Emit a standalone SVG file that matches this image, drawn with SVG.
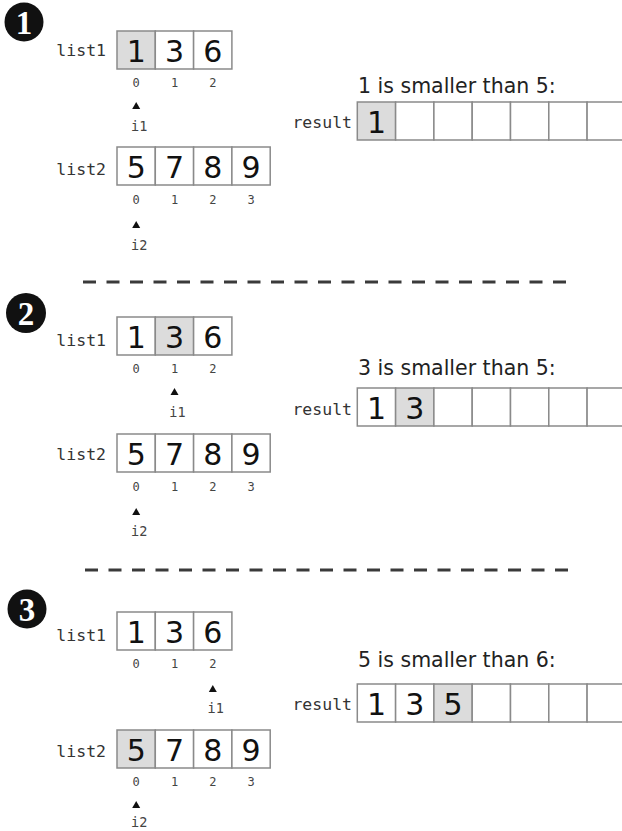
<svg xmlns="http://www.w3.org/2000/svg" width="622" height="831" viewBox="0 0 622 831">
<style>
.cell{fill:#fff;stroke:#8a8a8a;stroke-width:1.5}
.hi{fill:#dcdcdc}
.dig{font-family:"DejaVu Sans",sans-serif;font-size:30px;fill:#111;text-anchor:middle}
.lbl{font-family:"DejaVu Sans Mono",monospace;font-size:16.5px;fill:#333;text-anchor:end}
.idx{font-family:"DejaVu Sans Mono",monospace;font-size:12px;fill:#444;text-anchor:middle}
.ptr{font-family:"DejaVu Sans Mono",monospace;font-size:13.5px;fill:#444}
.cap{font-family:"DejaVu Sans",sans-serif;font-size:20.5px;fill:#222}
.num{font-family:"Liberation Serif",serif;font-weight:bold;font-size:33px;fill:#fff;text-anchor:middle}
.dash{stroke:#3a3a3a;stroke-width:2.8;stroke-dasharray:13 10.5;fill:none}
.arr{fill:#111}
</style>

<!-- ============ STEP 1 ============ -->
<g id="step1-marker"><circle cx="24" cy="22" r="19.5" fill="#111"/><text class="num" x="24" y="34">1</text></g>
<g id="step1-list1">
<text class="lbl" x="106" y="56">list1</text>
<rect class="cell hi" x="117" y="31" width="38.3" height="38"/>
<rect class="cell" x="155.3" y="31" width="38.3" height="38"/>
<rect class="cell" x="193.6" y="31" width="38.3" height="38"/>
<text class="dig" x="136.2" y="62">1</text><text class="dig" x="174.5" y="62">3</text><text class="dig" x="212.8" y="62">6</text>
<text class="idx" x="136.2" y="87">0</text><text class="idx" x="174.5" y="87">1</text><text class="idx" x="212.8" y="87">2</text>
</g>
<g id="step1-i1"><polygon class="arr" points="132.2,109 140.2,109 136.2,102"/><text class="ptr" x="131" y="131">i1</text></g>
<g id="step1-list2">
<text class="lbl" x="106" y="175">list2</text>
<rect class="cell" x="117" y="147" width="38.3" height="38"/>
<rect class="cell" x="155.3" y="147" width="38.3" height="38"/>
<rect class="cell" x="193.6" y="147" width="38.3" height="38"/>
<rect class="cell" x="231.9" y="147" width="38.3" height="38"/>
<text class="dig" x="136.2" y="178">5</text><text class="dig" x="174.5" y="178">7</text><text class="dig" x="212.8" y="178">8</text><text class="dig" x="251.1" y="178">9</text>
<text class="idx" x="136.2" y="204">0</text><text class="idx" x="174.5" y="204">1</text><text class="idx" x="212.8" y="204">2</text><text class="idx" x="251.1" y="204">3</text>
</g>
<g id="step1-i2"><polygon class="arr" points="132.2,228 140.2,228 136.2,221"/><text class="ptr" x="131" y="250">i2</text></g>
<g id="step1-result">
<text class="cap" x="358" y="93">1 is smaller than 5:</text>
<text class="lbl" x="352" y="128">result</text>
<rect class="cell hi" x="357.3" y="102" width="38.3" height="38"/>
<rect class="cell" x="395.6" y="102" width="38.3" height="38"/>
<rect class="cell" x="433.9" y="102" width="38.3" height="38"/>
<rect class="cell" x="472.2" y="102" width="38.3" height="38"/>
<rect class="cell" x="510.5" y="102" width="38.3" height="38"/>
<rect class="cell" x="548.8" y="102" width="38.3" height="38"/>
<rect class="cell" x="587.1" y="102" width="38.3" height="38"/>
<text class="dig" x="376.5" y="133">1</text>
</g>

<g id="separators">
<line class="dash" x1="83" y1="282" x2="570" y2="282"/>
<line class="dash" x1="85" y1="570" x2="570" y2="570"/>
</g>

<!-- ============ STEP 2 ============ -->
<g id="step2-marker"><circle cx="26" cy="313" r="20" fill="#111"/><text class="num" x="26" y="325">2</text></g>
<g id="step2-list1">
<text class="lbl" x="106" y="346">list1</text>
<rect class="cell" x="117" y="317" width="38.3" height="38"/>
<rect class="cell hi" x="155.3" y="317" width="38.3" height="38"/>
<rect class="cell" x="193.6" y="317" width="38.3" height="38"/>
<text class="dig" x="136.2" y="348">1</text><text class="dig" x="174.5" y="348">3</text><text class="dig" x="212.8" y="348">6</text>
<text class="idx" x="136.2" y="373">0</text><text class="idx" x="174.5" y="373">1</text><text class="idx" x="212.8" y="373">2</text>
</g>
<g id="step2-i1"><polygon class="arr" points="170.5,395 178.5,395 174.5,388"/><text class="ptr" x="169.3" y="417">i1</text></g>
<g id="step2-list2">
<text class="lbl" x="106" y="460">list2</text>
<rect class="cell" x="117" y="434" width="38.3" height="38"/>
<rect class="cell" x="155.3" y="434" width="38.3" height="38"/>
<rect class="cell" x="193.6" y="434" width="38.3" height="38"/>
<rect class="cell" x="231.9" y="434" width="38.3" height="38"/>
<text class="dig" x="136.2" y="465">5</text><text class="dig" x="174.5" y="465">7</text><text class="dig" x="212.8" y="465">8</text><text class="dig" x="251.1" y="465">9</text>
<text class="idx" x="136.2" y="491">0</text><text class="idx" x="174.5" y="491">1</text><text class="idx" x="212.8" y="491">2</text><text class="idx" x="251.1" y="491">3</text>
</g>
<g id="step2-i2"><polygon class="arr" points="132.2,515 140.2,515 136.2,508"/><text class="ptr" x="131" y="536">i2</text></g>
<g id="step2-result">
<text class="cap" x="358" y="375">3 is smaller than 5:</text>
<text class="lbl" x="352" y="415">result</text>
<rect class="cell" x="357.3" y="388" width="38.3" height="38"/>
<rect class="cell hi" x="395.6" y="388" width="38.3" height="38"/>
<rect class="cell" x="433.9" y="388" width="38.3" height="38"/>
<rect class="cell" x="472.2" y="388" width="38.3" height="38"/>
<rect class="cell" x="510.5" y="388" width="38.3" height="38"/>
<rect class="cell" x="548.8" y="388" width="38.3" height="38"/>
<rect class="cell" x="587.1" y="388" width="38.3" height="38"/>
<text class="dig" x="376.5" y="419">1</text><text class="dig" x="414.8" y="419">3</text>
</g>

<!-- ============ STEP 3 ============ -->
<g id="step3-marker"><circle cx="27" cy="609" r="19.5" fill="#111"/><text class="num" x="27" y="621">3</text></g>
<g id="step3-list1">
<text class="lbl" x="106" y="641">list1</text>
<rect class="cell" x="117" y="612" width="38.3" height="38"/>
<rect class="cell" x="155.3" y="612" width="38.3" height="38"/>
<rect class="cell" x="193.6" y="612" width="38.3" height="38"/>
<text class="dig" x="136.2" y="643">1</text><text class="dig" x="174.5" y="643">3</text><text class="dig" x="212.8" y="643">6</text>
<text class="idx" x="136.2" y="668">0</text><text class="idx" x="174.5" y="668">1</text><text class="idx" x="212.8" y="668">2</text>
</g>
<g id="step3-i1"><polygon class="arr" points="208.8,692 216.8,692 212.8,685"/><text class="ptr" x="207.6" y="713">i1</text></g>
<g id="step3-list2">
<text class="lbl" x="106" y="757">list2</text>
<rect class="cell hi" x="117" y="730" width="38.3" height="38"/>
<rect class="cell" x="155.3" y="730" width="38.3" height="38"/>
<rect class="cell" x="193.6" y="730" width="38.3" height="38"/>
<rect class="cell" x="231.9" y="730" width="38.3" height="38"/>
<text class="dig" x="136.2" y="761">5</text><text class="dig" x="174.5" y="761">7</text><text class="dig" x="212.8" y="761">8</text><text class="dig" x="251.1" y="761">9</text>
<text class="idx" x="136.2" y="786">0</text><text class="idx" x="174.5" y="786">1</text><text class="idx" x="212.8" y="786">2</text><text class="idx" x="251.1" y="786">3</text>
</g>
<g id="step3-i2"><polygon class="arr" points="132.2,808 140.2,808 136.2,801"/><text class="ptr" x="131" y="827">i2</text></g>
<g id="step3-result">
<text class="cap" x="358" y="667">5 is smaller than 6:</text>
<text class="lbl" x="352" y="710">result</text>
<rect class="cell" x="357.3" y="684" width="38.3" height="38"/>
<rect class="cell" x="395.6" y="684" width="38.3" height="38"/>
<rect class="cell hi" x="433.9" y="684" width="38.3" height="38"/>
<rect class="cell" x="472.2" y="684" width="38.3" height="38"/>
<rect class="cell" x="510.5" y="684" width="38.3" height="38"/>
<rect class="cell" x="548.8" y="684" width="38.3" height="38"/>
<rect class="cell" x="587.1" y="684" width="38.3" height="38"/>
<text class="dig" x="376.5" y="715">1</text><text class="dig" x="414.8" y="715">3</text><text class="dig" x="453.1" y="715">5</text>
</g>
</svg>
